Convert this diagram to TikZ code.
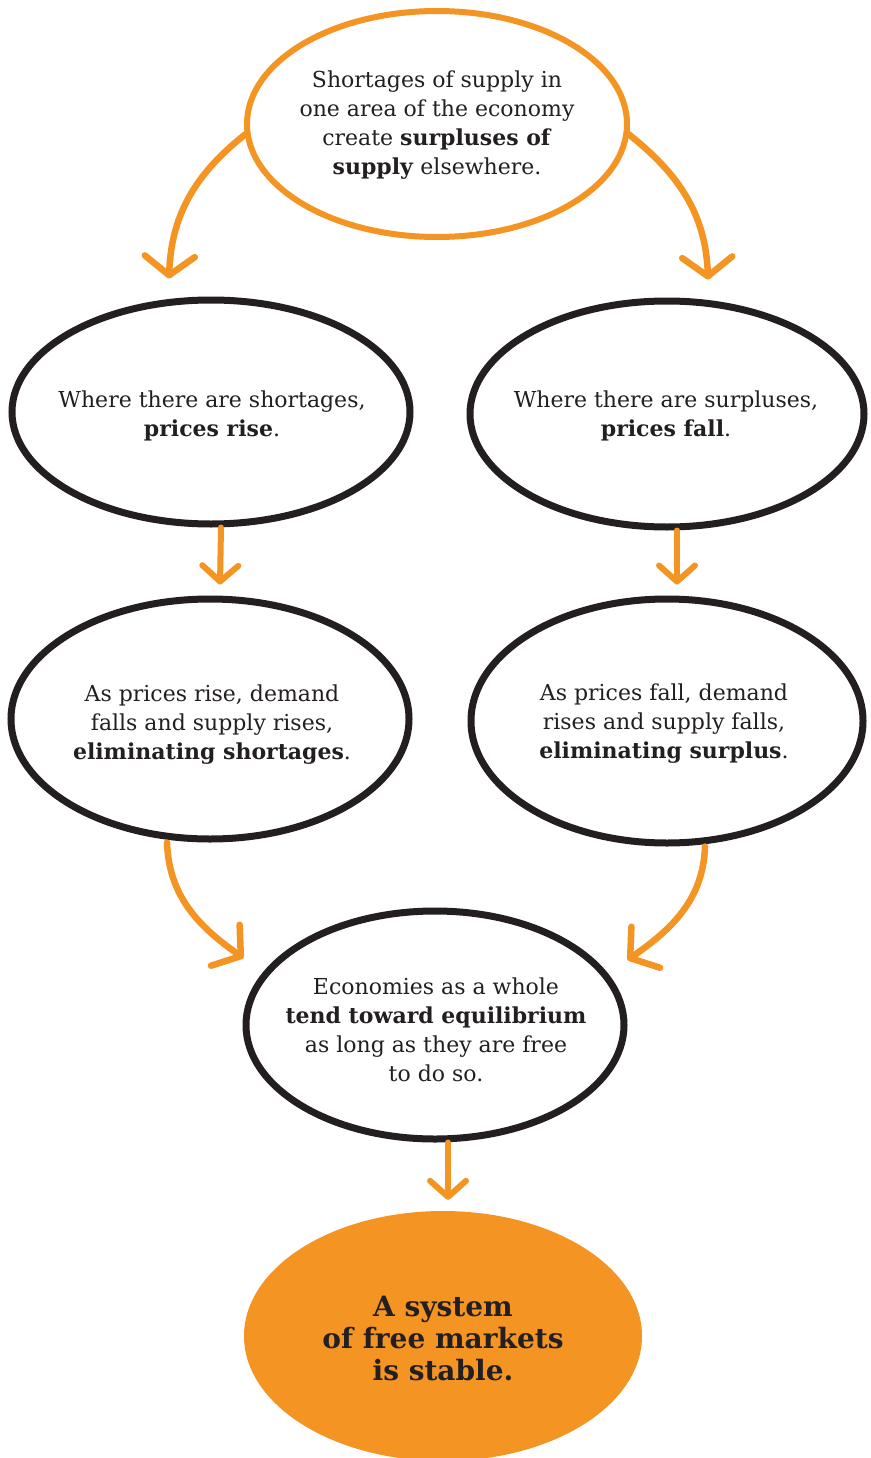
\documentclass[tikz,border=0pt]{standalone}
\usepackage{fontspec}
\setmainfont{DejaVu Serif}
\usetikzlibrary{shapes.geometric,arrows.meta}
\definecolor{ink}{HTML}{231F20}
\definecolor{orng}{HTML}{F39423}
\tikzset{
  bub/.style={ellipse, draw=ink, line width=7pt, inner sep=0pt},
  obub/.style={bub, draw=orng, line width=6pt},
  finbub/.style={ellipse, fill=orng, inner sep=0pt},
  txt/.style={align=center, text=ink, inner sep=0pt, font=\fontsize{22}{29}\selectfont},
  fintxt/.style={align=center, text=ink, inner sep=0pt, font=\fontsize{28}{32}\bfseries\selectfont},
  arr/.style={draw=orng, line width=6pt, line cap=round, -{Straight Barb[length=16pt,width=36pt,round]}},
  bigarr/.style={draw=orng, line width=6.5pt, line cap=round, -{Straight Barb[length=19pt,width=50pt,round]}},
}
\begin{document}
\begin{tikzpicture}[x=1pt,y=-1pt]
\useasboundingbox[fill=white] (0,0) rectangle (870,1458);
% bubbles
\node[obub, minimum width=380pt, minimum height=226pt] (src) at (437,124) {};
\node[txt] (srct) at (437,125) {Shortages of supply in\\one area of the economy\\create \textbf{surpluses of}\\\textbf{supply} elsewhere.};
\node[bub, minimum width=398pt, minimum height=224pt] (ml) at (211,412) {};
\node[txt] (mlt) at (212,416) {Where there are shortages,\\\textbf{prices rise}.};
\node[bub, minimum width=394pt, minimum height=226pt] (mr) at (667,414) {};
\node[txt] (mrt) at (666,416) {Where there are surpluses,\\\textbf{prices fall}.};
\node[bub, minimum width=398pt, minimum height=240pt] (bl) at (210,719) {};
\node[txt] (blt) at (212,725) {As prices rise, demand\\falls and supply rises,\\\textbf{eliminating shortages}.};
\node[bub, minimum width=392pt, minimum height=244pt] (br) at (667,721) {};
\node[txt] (brt) at (664,724) {As prices fall, demand\\rises and supply falls,\\\textbf{eliminating surplus}.};
\node[bub, minimum width=378pt, minimum height=228pt] (eq) at (435,1025) {};
\node[txt] (eqt) at (436,1030) {Economies as a whole\\\textbf{tend toward equilibrium}\\as long as they are free\\to do so.};
\node[finbub, minimum width=398pt, minimum height=250pt] (fin) at (443,1336) {};
\node[fintxt] (fint) at (443,1338) {A system\\of free markets\\is stable.};
% connectors
\draw[bigarr] ([xshift=3pt,yshift=-9pt]src.west) to[out=218,in=88] ([xshift=-42pt,yshift=18pt]ml.north);
\draw[bigarr] ([xshift=-3pt,yshift=-9pt]src.east) to[out=-38,in=92] ([xshift=41pt,yshift=18pt]mr.north);
\draw[arr] ([xshift=10pt]ml.south) -- ([xshift=10pt,yshift=11pt]bl.north);
\draw[arr] ([xshift=10pt]mr.south) -- ([xshift=10pt,yshift=11pt]br.north);
\draw[bigarr] ([xshift=-43pt]bl.south) to[out=-88,in=145] ([xshift=1pt,yshift=67pt]eq.west);
\draw[bigarr] ([xshift=38pt]br.south) to[out=-92,in=35] ([yshift=65pt]eq.east);
\draw[arr] ([xshift=13pt]eq.south) -- ([xshift=5pt,yshift=11pt]fin.north);
\end{tikzpicture}
\end{document}
